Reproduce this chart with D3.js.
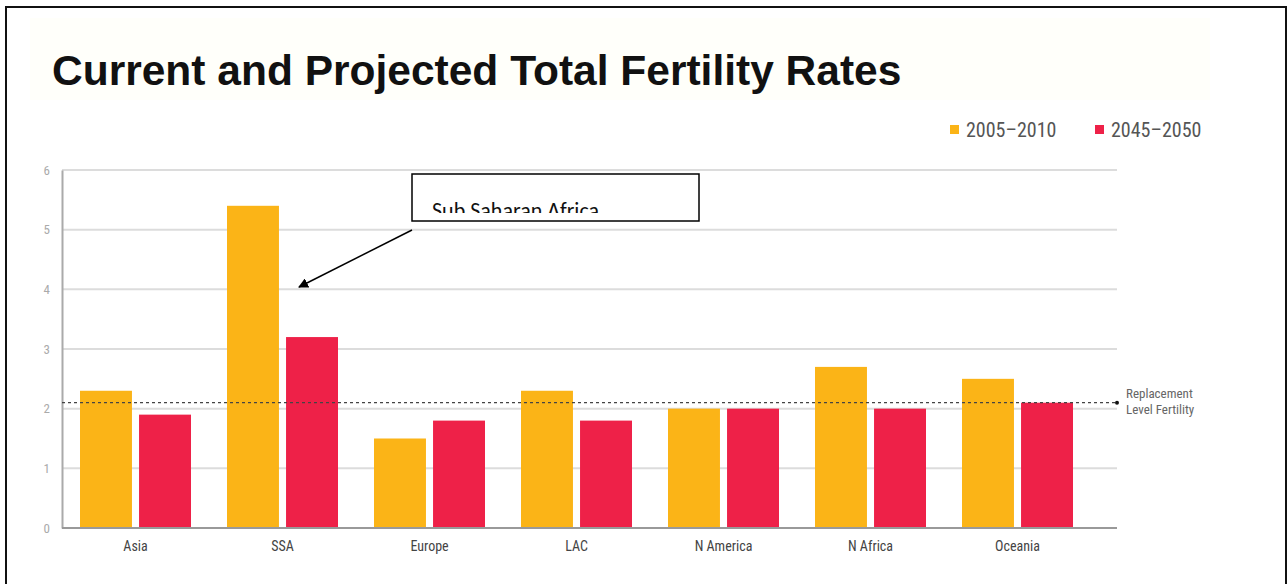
<!DOCTYPE html>
<html>
<head>
<meta charset="utf-8">
<script src="https://cdn.jsdelivr.net/npm/d3@7"></script>
<style>
  body { margin: 0; background: #fff; }
  svg { display: block; }
</style>
</head>
<body>
<svg id="chart" width="1288" height="584"></svg>
<script>
// data
var regions = ["Asia", "SSA", "Europe", "LAC", "N America", "N Africa", "Oceania"];
var periods = ["2005\u20132010", "2045\u20132050"];
var tfr2005 = [2.3, 5.4, 1.5, 2.3, 2.0, 2.7, 2.5];
var tfr2045 = [1.9, 3.2, 1.8, 1.8, 2.0, 2.0, 2.1];
var yTicks = [0, 1, 2, 3, 4, 5, 6];
var replacement = 2.1;

var colors = ["#FBB417", "#EE2148"];
var narrow = "'Liberation Sans Narrow', 'Roboto Condensed', Arial, sans-serif";

var svg = d3.select("#chart");

// outer frame
svg.append("path")
    .attr("d", "M6,600 V7 H1286 V600")
    .attr("fill", "none")
    .attr("stroke", "#111")
    .attr("stroke-width", 2);

// faint title background
svg.append("rect")
    .attr("x", 30).attr("y", 18).attr("width", 1180).attr("height", 82)
    .attr("fill", "#fffffa");

svg.append("text")
    .attr("x", 52).attr("y", 85)
    .text("Current and Projected Total Fertility Rates")
    .style("font-family", "Arial, 'Liberation Sans', sans-serif")
    .style("font-weight", "bold")
    .style("font-size", "42.5px")
    .attr("fill", "#111");

var plotLeft = 62, plotRight = 1117, plotTop = 170, plotBottom = 528;

var x0 = d3.scaleBand().domain(regions).range([plotLeft, 1091])
    .paddingInner(0.245).paddingOuter(0.1225);
var x1 = d3.scaleBand().domain([0, 1]).range([0, x0.bandwidth()]).paddingInner(0.12);
var y = d3.scaleLinear().domain([0, 6]).range([plotBottom, plotTop]);

// gridlines
svg.append("g").selectAll("line")
    .data(yTicks.filter(function (d) { return d > 0; }))
    .enter().append("line")
    .attr("x1", plotLeft).attr("x2", plotRight)
    .attr("y1", function (d) { return y(d); })
    .attr("y2", function (d) { return y(d); })
    .attr("stroke", "#dcdcdc").attr("stroke-width", 2);

// y axis
var yAxis = svg.append("g")
    .attr("transform", "translate(" + plotLeft + ",0)")
    .call(d3.axisLeft(y).tickValues(yTicks).tickFormat(d3.format("d")).tickSize(0).tickPadding(12));
yAxis.select(".domain").attr("stroke", "#aaa").attr("stroke-width", 2);
yAxis.selectAll("text")
    .style("font-family", narrow).style("font-size", "13px").attr("fill", "#aaa");

// bars
var rows = regions.map(function (r, i) { return { region: r, vals: [tfr2005[i], tfr2045[i]] }; });
var groups = svg.append("g").selectAll("g")
    .data(rows).enter().append("g")
    .attr("transform", function (d) { return "translate(" + x0(d.region) + ",0)"; });
groups.selectAll("rect")
    .data(function (d) { return d.vals.map(function (v, k) { return { k: k, v: v }; }); })
    .enter().append("rect")
    .attr("x", function (d) { return x1(d.k); })
    .attr("width", x1.bandwidth())
    .attr("y", function (d) { return y(d.v); })
    .attr("height", function (d) { return plotBottom - y(d.v); })
    .attr("fill", function (d) { return colors[d.k]; });

// x axis
var xAxis = svg.append("g")
    .attr("transform", "translate(0," + plotBottom + ")")
    .call(d3.axisBottom(x0).tickSize(0).tickPadding(13));
xAxis.select(".domain").attr("d", "M" + plotLeft + ",0H" + plotRight)
    .attr("stroke", "#999").attr("stroke-width", 2);
xAxis.selectAll("text")
    .style("font-family", narrow).style("font-size", "14px").attr("fill", "#444");

// replacement level line
svg.append("line")
    .attr("x1", plotLeft).attr("x2", plotRight)
    .attr("y1", y(replacement)).attr("y2", y(replacement))
    .attr("stroke", "#444").attr("stroke-width", 1.3)
    .attr("stroke-dasharray", "3,3");
svg.append("circle")
    .attr("cx", plotRight).attr("cy", y(replacement)).attr("r", 2).attr("fill", "#111");
svg.append("text")
    .attr("x", 1126).attr("y", y(replacement) - 5)
    .style("font-family", narrow).style("font-size", "13px").attr("fill", "#666")
    .text("Replacement");
svg.append("text")
    .attr("x", 1126).attr("y", y(replacement) + 11)
    .style("font-family", narrow).style("font-size", "13px").attr("fill", "#666")
    .text("Level Fertility");

// legend
var legX = [950, 1095];
var leg = svg.append("g").selectAll("g")
    .data(periods).enter().append("g")
    .attr("transform", function (d, i) { return "translate(" + legX[i] + ",130)"; });
leg.append("rect")
    .attr("x", 0).attr("y", -5).attr("width", 9).attr("height", 9)
    .attr("fill", function (d, i) { return colors[i]; });
leg.append("text")
    .attr("x", 16).attr("y", 7)
    .style("font-family", narrow).style("font-size", "20px").attr("fill", "#555")
    .text(function (d) { return d; });

// annotation
var defs = svg.append("defs");
defs.append("clipPath").attr("id", "boxclip")
    .append("rect").attr("x", 412).attr("y", 174).attr("width", 287).attr("height", 39);
defs.append("marker")
    .attr("id", "arrow").attr("viewBox", "0 0 10 10")
    .attr("refX", 9).attr("refY", 5)
    .attr("markerWidth", 10).attr("markerHeight", 10)
    .attr("markerUnits", "userSpaceOnUse")
    .attr("orient", "auto")
    .append("path").attr("d", "M0,0 L10,5 L0,10 z").attr("fill", "#000");

svg.append("rect")
    .attr("x", 412).attr("y", 174).attr("width", 287).attr("height", 47)
    .attr("fill", "#fff").attr("stroke", "#000").attr("stroke-width", 1.5);
svg.append("text")
    .attr("clip-path", "url(#boxclip)")
    .attr("x", 432).attr("y", 218)
    .style("font-family", "Carlito, 'Open Sans', 'Noto Sans', sans-serif")
    .style("font-size", "22px").attr("fill", "#111")
    .text("Sub Saharan Africa");
svg.append("line")
    .attr("x1", 412).attr("y1", 230).attr("x2", 299).attr("y2", 287)
    .attr("stroke", "#000").attr("stroke-width", 1.5)
    .attr("marker-end", "url(#arrow)");
</script>
</body>
</html>
